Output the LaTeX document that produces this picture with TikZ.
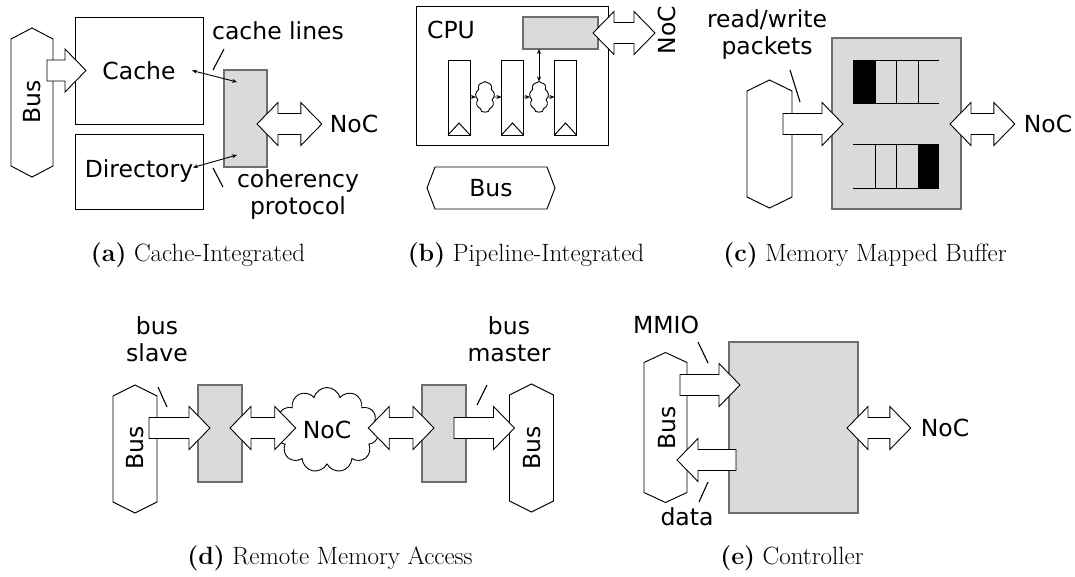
\documentclass[tikz,border=0pt]{standalone}
\usepackage{fontspec}
\newfontfamily\diagfont{DejaVu Sans}
\usetikzlibrary{arrows.meta,calc,shapes.symbols}
\definecolor{boxfill}{RGB}{218,218,220}
\definecolor{boxedge}{RGB}{110,110,110}

% vertical bus: hexagon drawn round an invisible node (name, chamfer)
\newcommand\vbusshape[2]{%
  \draw[plain] (#1.north) -- ([yshift=-#2pt]#1.north east) -- ([yshift=#2pt]#1.south east)
    -- (#1.south) -- ([yshift=#2pt]#1.south west) -- ([yshift=-#2pt]#1.north west) -- cycle;}
% horizontal bus
\newcommand\hbusshape[2]{%
  \draw[plain] (#1.west) -- ([xshift=#2pt]#1.north west) -- ([xshift=-#2pt]#1.north east)
    -- (#1.east) -- ([xshift=-#2pt]#1.south east) -- ([xshift=#2pt]#1.south west) -- cycle;}

\begin{document}
\begin{tikzpicture}[x=1pt,y=-1pt,
  every node/.style={inner sep=0pt, outer sep=0pt},
  lbl/.style={font=\diagfont\fontsize{23.5}{27}\selectfont, align=center},
  subcap/.style={font=\fontsize{25}{30}\selectfont},
  plain/.style={draw, line width=0.95pt, fill=white},
  hub/.style={draw=boxedge, line width=2pt, fill=boxfill},
  tick/.style={line width=1.1pt},
  wire/.style={line width=0.9pt, -{Stealth[length=5pt,width=4pt]}},
  wireboth/.style={line width=0.9pt, {Stealth[length=5pt,width=4pt]}-{Stealth[length=5pt,width=4pt]}},
  fatarrow/.style={draw, line width=0.9pt, fill=white, line join=miter, to path={
    let \p1=(\tikztostart), \p2=(\tikztotarget),
        \n1={veclen(\x2-\x1,\y2-\y1)},
        \n2={(\x2-\x1)/\n1}, \n3={(\y2-\y1)/\n1} in
    ({\x1-\n3*10.5},{\y1+\n2*10.5})
    -- ({\x2-\n2*21-\n3*10.5},{\y2-\n3*21+\n2*10.5})
    -- ({\x2-\n2*21-\n3*21.5},{\y2-\n3*21+\n2*21.5})
    -- (\x2,\y2)
    -- ({\x2-\n2*21+\n3*21.5},{\y2-\n3*21-\n2*21.5})
    -- ({\x2-\n2*21+\n3*10.5},{\y2-\n3*21-\n2*10.5})
    -- ({\x1+\n3*10.5},{\y1-\n2*10.5})
    -- cycle}},
  fatboth/.style={draw, line width=0.9pt, fill=white, line join=miter, to path={
    let \p1=(\tikztostart), \p2=(\tikztotarget),
        \n1={veclen(\x2-\x1,\y2-\y1)},
        \n2={(\x2-\x1)/\n1}, \n3={(\y2-\y1)/\n1} in
    ({\x1+\n2*21-\n3*10.5},{\y1+\n3*21+\n2*10.5})
    -- ({\x2-\n2*21-\n3*10.5},{\y2-\n3*21+\n2*10.5})
    -- ({\x2-\n2*21-\n3*21.5},{\y2-\n3*21+\n2*21.5})
    -- (\x2,\y2)
    -- ({\x2-\n2*21+\n3*21.5},{\y2-\n3*21-\n2*21.5})
    -- ({\x2-\n2*21+\n3*10.5},{\y2-\n3*21-\n2*10.5})
    -- ({\x1+\n2*21+\n3*10.5},{\y1+\n3*21-\n2*10.5})
    -- ({\x1+\n2*21+\n3*21.5},{\y1+\n3*21-\n2*21.5})
    -- (\x1,\y1)
    -- ({\x1+\n2*21-\n3*21.5},{\y1+\n3*21+\n2*21.5})
    -- cycle}},
  cloudy/.style={draw, line width=0.9pt, fill=white, cloud, cloud ignores aspect}
]
\useasboundingbox (0,0) rectangle (1075,576);

% ---------------- (a) cache-integrated ----------------
\node[minimum width=42pt, minimum height=149pt] (busA) at (32,102.5) {};
\vbusshape{busA}{11}
\node[lbl, rotate=90] (busAlbl) at (32,102) {Bus};
\node[plain, minimum width=128pt, minimum height=107pt, lbl] (cache) at (139,70.5) {Cache};
\node[plain, minimum width=128pt, minimum height=75pt, lbl] (dir) at (139,171.5) {Directory};
\node[hub, minimum width=43pt, minimum height=97pt] (hubA) at (245.5,118.5) {};
\node[lbl] (nocA) at (354,124) {NoC};
\node[lbl] (linesA) at (278,31) {cache lines};
\node[lbl] (protoA) at (298,194.5) {coherency\\protocol};
\draw[fatarrow] ($(busA.east |- cache)+(-6,0)$) to ($(cache.west)+(11,0)$);
\draw[fatboth] ($(hubA.east |- nocA)+(-10,0)$) to ($(nocA.west)+(-8,0)$);
\draw[wireboth] ($(cache.east)+(-11,0)$) -- ($(hubA.north west)+(13,12)$);
\draw[wireboth] ($(dir.east)+(-10,-4)$) -- ($(hubA.south west)+(13,-12)$);
\draw[tick] (213,70) -- (224,49);
\draw[tick] (213,168) -- (223,187);

% ---------------- (b) pipeline-integrated ----------------
\node[plain, minimum width=192pt, minimum height=139pt] (cpu) at (512,75.5) {};
\node[lbl] (cpuLbl) at (451,30) {CPU};
\node[hub, minimum width=75pt, minimum height=32pt] (hubB) at (560.5,33) {};
\node[lbl, rotate=90] (nocB) at (667,30) {NoC};
\foreach \n/\xx in {r1/459, r2/512.5, r3/565.5}{
  \node[plain, minimum width=22pt, minimum height=75pt] (\n) at (\xx,97.5) {};
  \draw[line width=0.95pt] (\n.south west) -- ($(\n.south)+(0,-12)$) -- (\n.south east);
}
\node[cloudy, cloud puffs=9, cloud puff arc=110, minimum width=19pt, minimum height=31pt] (c1) at (485,97) {};
\node[cloudy, cloud puffs=9, cloud puff arc=110, minimum width=19pt, minimum height=31pt] (c2) at (539,97) {};
\draw[wire] (r1.east |- c1) -- (c1.west);
\draw[wire] (c1.east) -- (r2.west |- c1);
\draw[wire] (r2.east |- c2) -- (c2.west);
\draw[wire] (c2.east) -- (r3.west |- c2);
\draw[wireboth] (hubB.south -| c2.north) -- (c2.north);
\draw[fatboth] ($(hubB.east)+(-5,0)$) to ($(nocB)+(-12,3)$);
\node[minimum width=128pt, minimum height=42pt] (busB) at (491,188) {};
\hbusshape{busB}{8}
\node[lbl] (busBlbl) at (busB) {Bus};

% ---------------- (c) memory mapped buffer ----------------
\node[minimum width=45pt, minimum height=128pt] (busC) at (769.5,144) {};
\vbusshape{busC}{11}
\node[hub, minimum width=129pt, minimum height=171pt] (hubC) at (896.5,123.5) {};
\node[lbl] (nocC) at (1048,124) {NoC};
\node[lbl] (pktC) at (767,35) {read/write\\packets};
% incoming queue
\fill (853,60) rectangle (875,103);
\draw[line width=0.95pt] (853,60) -- (939,60) (853,103) -- (939,103)
  (875,60) -- (875,103) (896,60) -- (896,103) (918,60) -- (918,103);
% outgoing queue
\fill (918,144) rectangle (939,188);
\draw[line width=0.95pt] (853,144) -- (939,144) (853,188) -- (939,188)
  (875,144) -- (875,188) (896,144) -- (896,188) (918,144) -- (918,188);
\draw[fatarrow] ($(busC.east |- nocC)+(-9,0)$) to ($(hubC.west |- nocC)+(11,0)$);
\draw[fatboth] ($(hubC.east |- nocC)+(-11,0)$) to ($(nocC.west)+(-9,0)$);
\draw[tick] (790,70) -- (800,102);

% ---------------- (d) remote memory access ----------------
\node[minimum width=44pt, minimum height=128pt] (busD1) at (135,449) {};
\vbusshape{busD1}{11}
\node[lbl, rotate=90] (busD1lbl) at (135,448) {Bus};
\node[hub, minimum width=44pt, minimum height=97pt] (hubD1) at (220,433.5) {};
\node[cloudy, cloud puffs=11, minimum width=103pt, minimum height=85pt, lbl] (net) at (327,430) {NoC};
\node[hub, minimum width=44pt, minimum height=97pt] (hubD2) at (444,433.5) {};
\node[minimum width=44pt, minimum height=128pt] (busD2) at (531.5,448) {};
\vbusshape{busD2}{11}
\node[lbl, rotate=90] (busD2lbl) at (532,448) {Bus};
\node[lbl] (slaveD) at (157,339) {bus\\slave};
\node[lbl] (masterD) at (509,339) {bus\\master};
\draw[fatarrow] ($(busD1.east |- net)+(-8,-2)$) to ($(hubD1.west |- net)+(12,-2)$);
\draw[fatboth] ($(hubD1.east |- net)+(-12,-2)$) to ($(net.west)+(19,-2)$);
\draw[fatboth] ($(net.east)+(-9,-2)$) to ($(hubD2.west |- net)+(12,-2)$);
\draw[fatarrow] ($(hubD2.east |- net)+(-12,-2)$) to ($(busD2.west |- net)+(5,-2)$);
\draw[tick] (158,387) -- (167,407);
\draw[tick] (477,405) -- (487,385);

% ---------------- (e) controller ----------------
\node[minimum width=43pt, minimum height=150pt] (busE) at (665.5,427.5) {};
\vbusshape{busE}{10}
\node[lbl, rotate=90] (busElbl) at (667,428) {Bus};
\node[hub, minimum width=129pt, minimum height=171pt] (hubE) at (793.5,427) {};
\node[lbl] (nocE) at (945,428) {NoC};
\node[lbl] (mmioE) at (666,325) {MMIO};
\node[lbl] (dataE) at (687,517) {data};
\draw[fatarrow] ($(busE.east)+(-7,-42.5)$) to ($(hubE.west)+(11,-42)$);
\draw[fatarrow] ($(hubE.west)+(7,33)$) to ($(busE.east)+(-10,32.5)$);
\draw[fatboth] ($(hubE.east |- nocE)+(-11,0)$) to ($(nocE.west)+(-10,0)$);
\draw[tick] (698,342) -- (708,363);
\draw[tick] (699,502) -- (708,482);

% ---------------- captions ----------------
\node[subcap] (capA) at (198,255) {\textbf{(a)} Cache-Integrated};
\node[subcap] (capB) at (526,255) {\textbf{(b)} Pipeline-Integrated};
\node[subcap] (capC) at (865,255) {\textbf{(c)} Memory Mapped Buffer};
\node[subcap] (capD) at (330,558) {\textbf{(d)} Remote Memory Access};
\node[subcap] (capE) at (792,558) {\textbf{(e)} Controller};
\end{tikzpicture}
\end{document}
